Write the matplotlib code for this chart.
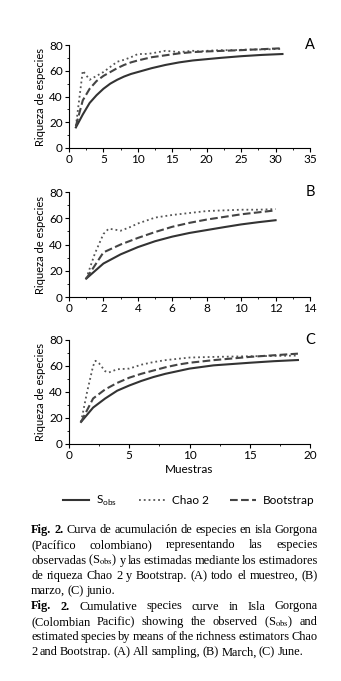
import numpy as np
import matplotlib.pyplot as plt
from matplotlib.ticker import MultipleLocator

plt.rcParams['font.family'] = ['Lato', 'DejaVu Sans']
plt.rcParams['mathtext.fontset'] = 'custom'
plt.rcParams['mathtext.rm'] = 'Lato'

# panel A - all sampling
a_x_obs = [1, 2, 3, 4, 5, 6, 7, 8, 9, 10, 12, 14, 16, 18, 20, 22, 25, 28, 31]
a_obs = [16, 26, 35, 41, 46, 50, 53, 55.5, 57.5, 59, 62, 64.5, 66.5, 68, 69, 70, 71.3, 72.3, 73]
a_x_chao = [1, 2, 3, 4, 5, 6, 7, 8, 9, 10, 11, 12, 13, 14, 15, 16, 17, 18, 19, 20, 22, 24, 26, 28, 31]
a_chao = [17, 60, 53, 56, 59, 63, 67, 68.5, 70.5, 73, 73, 73.5, 74.5, 75.5, 75, 74.5, 75, 75.5, 75, 75.5, 76, 76, 76.5, 76.5, 77]
a_x_boot = [1, 2, 3, 4, 5, 6, 7, 8, 9, 10, 12, 14, 16, 18, 20, 25, 31]
a_boot = [17, 37, 46, 52, 56, 59, 62, 64.5, 66.5, 68, 70.5, 72, 73.5, 74.5, 75, 76, 77.5]

# panel B - March
b_x_obs = [1, 2, 3, 4, 5, 6, 7, 8, 9, 10, 11, 12]
b_obs = [14, 25.5, 32.5, 38, 42.5, 46, 48.8, 51, 53.2, 55.3, 57, 58.5]
b_x_chao = [1, 1.5, 2, 2.3, 2.6, 3, 3.5, 4, 5, 6, 7, 8, 9, 10, 11, 12]
b_chao = [14, 33, 48, 52, 51.5, 50.5, 53, 56, 60.5, 62.5, 64, 65.5, 66, 66.5, 66.5, 67]
b_x_boot = [1, 2, 3, 4, 5, 6, 7, 8, 9, 10, 11, 12]
b_boot = [14, 34, 40, 45, 49.5, 53.5, 56.5, 59, 61, 63, 64.5, 66]

# panel C - June
c_x_obs = [1, 2, 3, 4, 5, 6, 7, 8, 9, 10, 12, 15, 17, 19]
c_obs = [17, 28, 35, 41, 45, 48.5, 51.5, 54, 56, 58, 60.5, 62.5, 63.7, 64.6]
c_x_chao = [1, 1.5, 2, 2.2, 2.5, 3, 3.3, 4, 5, 6, 7, 8, 9, 10, 12, 15, 19]
c_chao = [17, 40, 60, 64, 62, 56, 55, 57.5, 58, 61, 63, 64.5, 65.5, 66.5, 67, 67.5, 68]
c_x_boot = [1, 2, 3, 4, 5, 6, 7, 8, 9, 10, 12, 15, 19]
c_boot = [17, 35, 42, 47, 51, 54, 56.5, 59, 61, 62.5, 64.5, 67, 69.5]

panels = [
    ('A', 35, 5, a_x_obs, a_obs, a_x_chao, a_chao, a_x_boot, a_boot),
    ('B', 14, 2, b_x_obs, b_obs, b_x_chao, b_chao, b_x_boot, b_boot),
    ('C', 20, 5, c_x_obs, c_obs, c_x_chao, c_chao, c_x_boot, c_boot),
]

W, H = 341, 681
fig = plt.figure(figsize=(W / 100, H / 100), dpi=100)

# (y=0 px from top, y=80 px from top)
boxes = [(148, 45), (297, 192), (444, 340)]

for (lab, xmax, xstep, xo, yo, xc, yc, xb, yb), (y0, y1) in zip(panels, boxes):
    ax = fig.add_axes([69 / W, 1 - y0 / H, (310 - 69) / W, (y0 - y1) / H])
    l1, = ax.plot(xo, yo, '-', color='#333333', lw=1.5)
    l2, = ax.plot(xc, yc, ':', color='#555555', lw=1.3)
    l3, = ax.plot(xb, yb, '--', color='#444444', lw=1.5)
    ax.set_xlim(0, xmax)
    ax.set_ylim(0, 80)
    ax.xaxis.set_major_locator(MultipleLocator(xstep))
    ax.xaxis.set_minor_locator(MultipleLocator(xstep / 2))
    ax.yaxis.set_major_locator(MultipleLocator(20))
    ax.yaxis.set_minor_locator(MultipleLocator(10))
    for s in ['top', 'right']:
        ax.spines[s].set_visible(False)
    for s in ['left', 'bottom']:
        ax.spines[s].set_linewidth(0.8)
    ax.tick_params(which='major', length=3, width=0.8, labelsize=8.5, pad=1.5)
    ax.tick_params(which='minor', length=1.5, width=0.6)
    ax.set_ylabel('Riqueza de especies', fontsize=8, labelpad=2)
    ax.text(1.0, 1.0, lab, transform=ax.transAxes, ha='center', va='center', fontsize=10.5)
    if lab == 'C':
        ax.set_xlabel('Muestras', fontsize=8.5, labelpad=2)

fig.legend([l1, l2, l3], [r'S$_{\mathrm{obs}}$', 'Chao 2', 'Bootstrap'],
           loc='center', bbox_to_anchor=(189 / W, 1 - 501 / H), ncol=3,
           frameon=False, fontsize=8.5, handlelength=2.2, columnspacing=1.8,
           handletextpad=0.6)

# caption, justified line by line
cap_lines = [
    ('Fig. 2. Curva de acumulación de especies en isla Gorgona', True),
    ('(Pacífico colombiano) representando las especies', True),
    (r'observadas (S$_{\mathrm{obs}}$) y las estimadas mediante los estimadores', True),
    ('de riqueza Chao 2 y Bootstrap. (A) todo el muestreo, (B)', True),
    ('marzo, (C) junio.', False),
    ('Fig. 2. Cumulative species curve in Isla Gorgona', True),
    (r'(Colombian Pacific) showing the observed (S$_{\mathrm{obs}}$) and', True),
    ('estimated species by means of the richness estimators Chao', True),
    ('2 and Bootstrap. (A) All sampling, (B) March, (C) June.', False),
]
cap_left, cap_right = 31, 318
cap_y0, cap_dy = 530, 15.3
renderer = fig.canvas.get_renderer()
for i, (line, justify) in enumerate(cap_lines):
    words = line.split(' ')
    y = 1 - (cap_y0 + i * cap_dy) / H
    texts = []
    for j, w in enumerate(words):
        bold = line.startswith('Fig. 2.') and j < 2
        t = fig.text(0, y, w, ha='left', va='center', fontsize=8.9,
                     family='Liberation Serif', math_fontfamily='stix',
                     fontweight='bold' if bold else 'normal')
        texts.append(t)
    widths = [t.get_window_extent(renderer).width for t in texts]
    if justify:
        gap = (cap_right - cap_left - sum(widths)) / (len(words) - 1)
    else:
        gap = 2.4
    x = cap_left
    for t, wd in zip(texts, widths):
        t.set_x(x / W)
        x += wd + gap

fig.savefig('out.png', dpi=100)
